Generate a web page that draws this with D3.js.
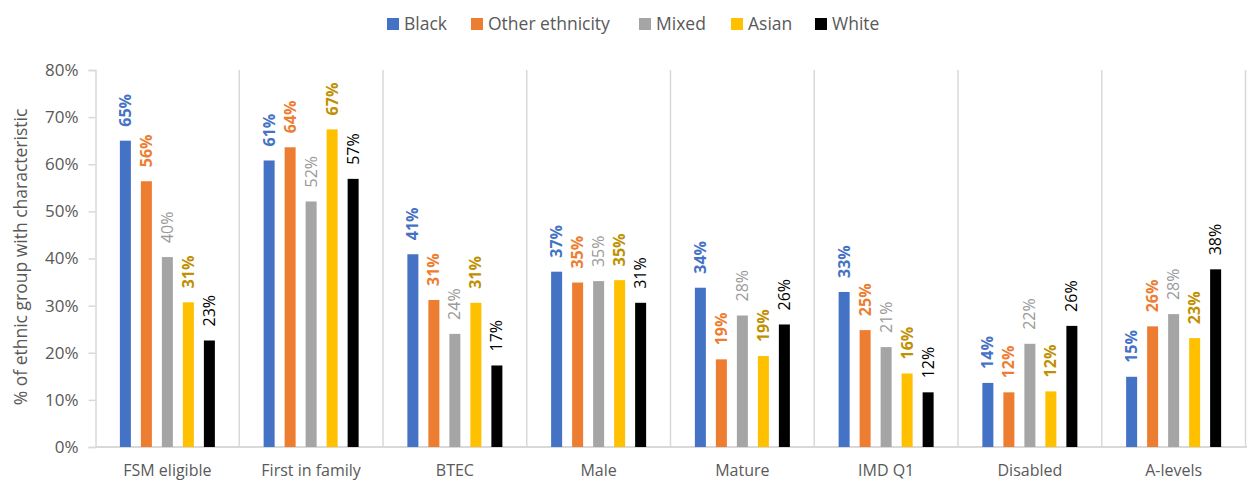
<!DOCTYPE html>
<html><head><meta charset="utf-8">
<script src="https://cdn.jsdelivr.net/npm/d3@7"></script>
<style>body{margin:0;background:#fff}svg{display:block}text{font-family:"Open Sans",sans-serif}</style>
</head><body><svg id="c" width="1247" height="481"></svg>
<script>
const categories = ["FSM eligible","First in family","BTEC","Male","Mature","IMD Q1","Disabled","A-levels"];
const series = ["Black","Other ethnicity","Mixed","Asian","White"];
const black  = [0.650,0.608,0.409,0.372,0.338,0.329,0.136,0.149];
const other  = [0.564,0.636,0.312,0.349,0.186,0.248,0.116,0.256];
const mixed  = [0.403,0.521,0.240,0.352,0.279,0.212,0.219,0.282];
const asian  = [0.307,0.674,0.306,0.354,0.193,0.156,0.118,0.231];
const white  = [0.226,0.569,0.173,0.306,0.260,0.116,0.257,0.377];
const yTicks = [0,0.1,0.2,0.3,0.4,0.5,0.6,0.7,0.8];

const values = [black, other, mixed, asian, white];
const colors = ["#4472C4","#ED7D31","#A5A5A5","#FFC000","#000000"];
const labelColors = ["#4472C4","#ED7D31","#9A9A9A","#BF9000","#000000"];
const labelWeights = ["bold","bold","normal","bold","normal"];

const svg = d3.select("#c");
const y = d3.scaleLinear().domain([0,0.8]).range([447,70]);
const x = d3.scaleBand().domain(categories).range([95.5,1245.5]).padding(0);
const x1 = d3.scaleBand().domain(series).range([-52.5,52.5]).paddingInner(10/21).paddingOuter(5/21);

// separators
svg.append("g").selectAll("line").data(categories.slice(1).concat(["__end"])).join("line")
  .attr("x1",(d,i)=>x.range()[0]+(i+1)*x.step()).attr("x2",(d,i)=>x.range()[0]+(i+1)*x.step())
  .attr("y1",y(0.8)).attr("y2",y(0)).attr("stroke","#D9D9D9").attr("stroke-width",1.5);

// y axis
const yAxis = d3.axisLeft(y).tickValues(yTicks).tickFormat(d3.format(".0%")).tickSize(7).tickPadding(10);
const ga = svg.append("g").attr("transform","translate(95.5,0)").call(yAxis);
ga.select(".domain").attr("stroke","#D9D9D9").attr("stroke-width",1.5);
ga.selectAll(".tick line").attr("stroke","#D9D9D9").attr("stroke-width",1.5);
ga.selectAll(".tick text").attr("fill","#595959").style("font-size","17px").style("font-family","'Open Sans',sans-serif");

// x baseline
svg.append("line").attr("x1",95.5).attr("x2",1247).attr("y1",y(0)).attr("y2",y(0)).attr("stroke","#D9D9D9").attr("stroke-width",2);

// category labels
svg.append("g").selectAll("text").data(categories).join("text")
  .attr("x",d=>x(d)+x.bandwidth()/2).attr("y",476).attr("text-anchor","middle")
  .attr("fill","#595959").style("font-size","16px").text(d=>d);

// bars + labels
series.forEach((s,si)=>{
  const g = svg.append("g");
  g.selectAll("rect").data(values[si]).join("rect")
    .attr("x",(d,i)=>x(categories[i])+x.bandwidth()/2+x1(s))
    .attr("width",x1.bandwidth())
    .attr("y",d=>y(d)).attr("height",d=>y(0)-y(d)).attr("fill",colors[si]);
  g.selectAll("text").data(values[si]).join("text")
    .attr("transform",(d,i)=>`translate(${x(categories[i])+x.bandwidth()/2+x1(s)+x1.bandwidth()/2},${y(d)-14}) rotate(-90)`)
    .attr("dy","0.35em").attr("text-anchor","start")
    .attr("fill",labelColors[si]).attr("font-weight",labelWeights[si])
    .style("font-size","16px").text(d=>Math.round(d*100)+"%");
});

// y title
svg.append("text").attr("transform","translate(21,257) rotate(-90)").attr("text-anchor","middle")
  .attr("dy","0.35em").attr("fill","#595959").style("font-size","17.5px").text("% of ethnic group with characteristic");

// legend
const legX = [387,471,639,731,815];
const lg = svg.append("g");
series.forEach((s,i)=>{
  lg.append("rect").attr("x",legX[i]).attr("y",18).attr("width",12).attr("height",12).attr("fill",colors[i]);
  lg.append("text").attr("x",legX[i]+17).attr("y",24).attr("dy","0.35em").attr("fill","#595959").style("font-size","17.5px").text(s);
});
</script></body></html>
